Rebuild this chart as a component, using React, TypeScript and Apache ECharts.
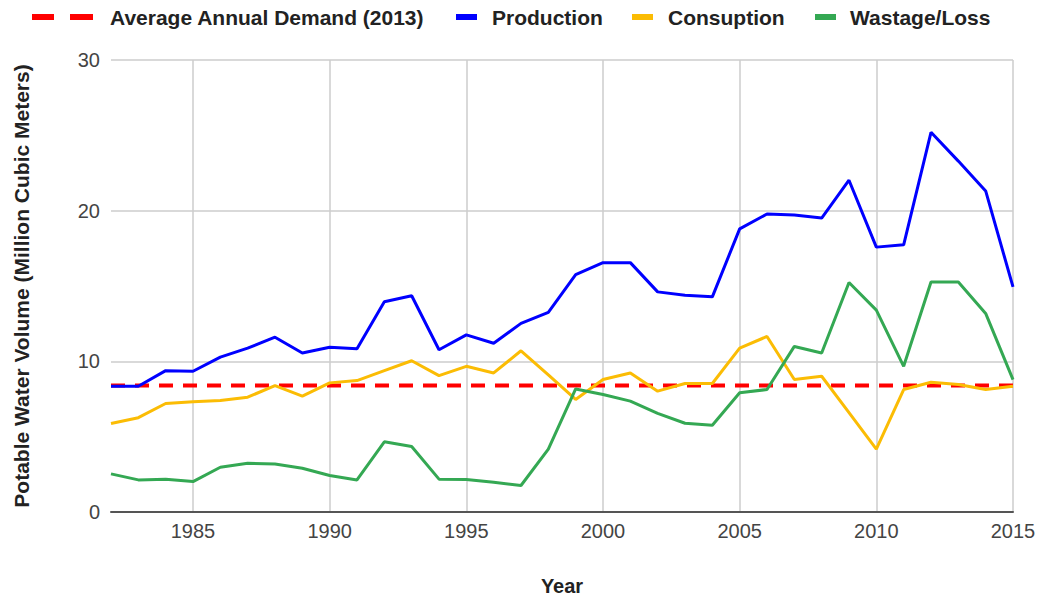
import React, { useEffect, useRef } from "react";
import * as echarts from "echarts";

const years: string[] = [
  "1982", "1983", "1984", "1985", "1986", "1987", "1988", "1989", "1990", "1991",
  "1992", "1993", "1994", "1995", "1996", "1997", "1998", "1999", "2000", "2001",
  "2002", "2003", "2004", "2005", "2006", "2007", "2008", "2009", "2010", "2011",
  "2012", "2013", "2014", "2015",
];

const averageDemand2013 = 8.4;

const production: number[] = [
  8.35, 8.35, 9.38, 9.34, 10.28, 10.88, 11.6, 10.55, 10.94, 10.83,
  13.95, 14.35, 10.77, 11.76, 11.2, 12.52, 13.25, 15.75, 16.55, 16.55,
  14.61, 14.39, 14.28, 18.79, 19.78, 19.71, 19.51, 22.02, 17.58, 17.73,
  25.2, 23.29, 21.31, 14.94,
];

const consumption: number[] = [
  5.87, 6.26, 7.2, 7.32, 7.4, 7.62, 8.39, 7.69, 8.57, 8.72,
  9.38, 10.04, 9.05, 9.67, 9.23, 10.7, 9.1, 7.47, 8.79, 9.23,
  8.02, 8.53, 8.53, 10.88, 11.65, 8.79, 9.01, 6.59, 4.17, 8.13,
  8.61, 8.46, 8.13, 8.35,
];

const wastage: number[] = [
  2.53, 2.13, 2.18, 2.02, 2.97, 3.23, 3.18, 2.9, 2.42, 2.13,
  4.66, 4.35, 2.18, 2.15, 1.98, 1.76, 4.17, 8.17, 7.8, 7.36,
  6.55, 5.89, 5.76, 7.91, 8.13, 10.99, 10.55, 15.23, 13.4, 9.67,
  15.27, 15.27, 13.18, 8.79,
];

const seriesNames = [
  "Average Annual Demand (2013)",
  "Production",
  "Consuption",
  "Wastage/Loss",
];
const seriesColors = ["#ff0000", "#0000ff", "#fbbc04", "#34a853"];

const FONT = "'Liberation Sans', Arial, sans-serif";

export default function App() {
  const ref = useRef<HTMLDivElement>(null);

  useEffect(() => {
    if (!ref.current) return;
    const chart = echarts.init(ref.current, null, { renderer: "svg" });

    const legendText = (x: number, text: string) => ({
      type: "text",
      x,
      y: 17,
      style: {
        text,
        fill: "#222222",
        font: `bold 21px ${FONT}`,
        textVerticalAlign: "middle",
        verticalAlign: "middle",
      },
    });
    const legendRect = (x: number, w: number, color: string) => ({
      type: "rect",
      shape: { x, y: 14, width: w, height: 6 },
      style: { fill: color },
    });

    const avgData = years.map(() => averageDemand2013);

    chart.setOption({
      animation: false,
      backgroundColor: "#ffffff",
      textStyle: { fontFamily: FONT },
      grid: { left: 111, right: 27, top: 60, bottom: 86, containLabel: false },
      xAxis: {
        type: "category",
        data: years,
        boundaryGap: false,
        name: "Year",
        nameLocation: "middle",
        nameGap: 64,
        nameTextStyle: { fontSize: 20, fontWeight: "bold", color: "#222222", fontFamily: FONT },
        axisLine: { show: true, lineStyle: { color: "#555555", width: 2 } },
        axisTick: { show: false },
        axisLabel: {
          interval: (_i: number, v: string) => Number(v) % 5 === 0,
          fontSize: 20,
          color: "#444444",
          margin: 9,
          fontFamily: FONT,
        },
        splitLine: {
          show: true,
          interval: (_i: number, v: string) => Number(v) % 5 === 0,
          lineStyle: { color: "#cccccc", width: 1.5 },
        },
      },
      yAxis: {
        type: "value",
        min: 0,
        max: 30,
        interval: 10,
        name: "Potable Water Volume (Million Cubic Meters)",
        nameLocation: "middle",
        nameGap: 79,
        nameTextStyle: { fontSize: 21, fontWeight: "bold", color: "#222222", fontFamily: FONT },
        axisLine: { show: false },
        axisTick: { show: false },
        axisLabel: { fontSize: 20, color: "#444444", margin: 11, fontFamily: FONT },
        splitLine: { lineStyle: { color: "#cccccc", width: 1.5 } },
      },
      series: [
        {
          name: seriesNames[0],
          type: "line",
          data: avgData,
          showSymbol: false,
          symbol: "none",
          lineStyle: { color: seriesColors[0], width: 4, type: [14, 10] },
        },
        {
          name: seriesNames[1],
          type: "line",
          data: production,
          showSymbol: false,
          symbol: "none",
          lineStyle: { color: seriesColors[1], width: 3 },
        },
        {
          name: seriesNames[2],
          type: "line",
          data: consumption,
          showSymbol: false,
          symbol: "none",
          lineStyle: { color: seriesColors[2], width: 3 },
        },
        {
          name: seriesNames[3],
          type: "line",
          data: wastage,
          showSymbol: false,
          symbol: "none",
          lineStyle: { color: seriesColors[3], width: 3 },
        },
      ],
      graphic: [
        legendRect(32, 22, seriesColors[0]),
        legendRect(70, 23, seriesColors[0]),
        legendText(110, seriesNames[0]),
        legendRect(456, 21, seriesColors[1]),
        legendText(492, seriesNames[1]),
        legendRect(632, 21, seriesColors[2]),
        legendText(668, seriesNames[2]),
        legendRect(815, 21, seriesColors[3]),
        legendText(850, seriesNames[3]),
      ],
    });

    return () => chart.dispose();
  }, []);

  return (
    <div
      ref={ref}
      style={{ width: 1040, height: 601, position: "absolute", left: 0, top: 0 }}
    />
  );
}
